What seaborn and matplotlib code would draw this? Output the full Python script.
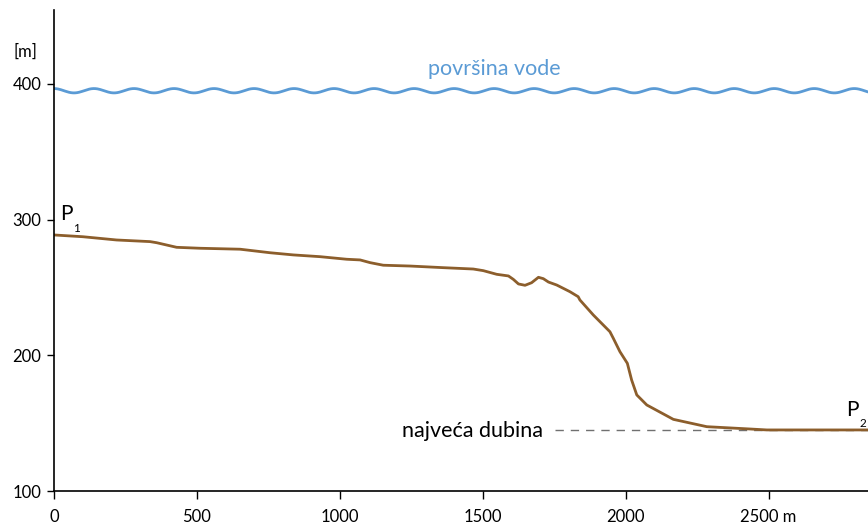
import numpy as np
import pandas as pd
import matplotlib
matplotlib.use("Agg")
import matplotlib.pyplot as plt
import seaborn as sns

# Lake bottom profile between P1 and P2 (distance in m, elevation in m)
distance = [0, 101, 219, 336, 359, 429, 511, 651, 756, 837, 931, 1024, 1071,
            1106, 1152, 1246, 1362, 1467, 1502, 1549, 1590, 1607, 1625, 1648,
            1671, 1695, 1712, 1730, 1759, 1805, 1834, 1840, 1887, 1945, 1957,
            1980, 2006, 2021, 2039, 2074, 2167, 2284, 2435, 2494, 2848]
elevation = [288.7, 287.4, 285.0, 283.8, 283.0, 279.6, 278.9, 278.2, 275.6,
             274.0, 272.7, 270.8, 270.3, 268.3, 266.4, 265.8, 264.6, 263.6,
             262.4, 259.7, 258.5, 256.0, 252.6, 251.6, 253.5, 257.5, 256.5,
             254.0, 251.8, 246.9, 243.2, 240.8, 229.7, 217.4, 212.5, 202.7,
             194.1, 181.8, 170.8, 163.4, 152.8, 147.4, 145.7, 145.0, 145.0]

water_level = 395.0          # lake surface
max_depth_level = 145.0      # deepest point
max_depth_start = 1753       # start of the dashed marker line
x_ticks = [0, 500, 1000, 1500, 2000, 2500]
x_tick_labels = ["0", "500", "1000", "1500", "2000", "2500 m"]
y_ticks = [100, 200, 300, 400]
x_max, y_min, y_max = 2848, 100, 454.5

sns.set_theme(style="white")
plt.rcParams["font.family"] = ["Lato", "DejaVu Sans"]

fig = plt.figure(figsize=(8.68, 5.28), dpi=100)
ax = fig.add_axes([54 / 868, 37 / 528, 814 / 868, 481 / 528])

# wavy water surface (decorative ripple around the water level)
wave_period, wave_amp = 140.0, 1.6
wx = np.linspace(0, x_max, 1200)
wy = water_level + wave_amp * np.cos(2 * np.pi * wx / wave_period)
sns.lineplot(x=wx, y=wy, ax=ax, color="#5b9bd5", linewidth=2.0, sort=False)

# deepest point marker
ax.plot([max_depth_start, x_max], [max_depth_level, max_depth_level],
        color="#707070", linewidth=1.0, dashes=(6, 5))

profile = pd.DataFrame({"distance": distance, "elevation": elevation})
sns.lineplot(data=profile, x="distance", y="elevation", ax=ax,
             color="#8c5e2c", linewidth=2.0, sort=False)

ax.set_xlim(0, x_max)
ax.set_ylim(y_min, y_max)
ax.set_xticks(x_ticks)
ax.set_xticklabels(x_tick_labels)
ax.set_yticks(y_ticks)
ax.set_xlabel("")
ax.set_ylabel("")

for side in ["top", "right"]:
    ax.spines[side].set_visible(False)
for side in ["left", "bottom"]:
    ax.spines[side].set_color("black")
    ax.spines[side].set_linewidth(1.2)

ax.tick_params(axis="both", direction="out", length=6, width=1.0,
               color="black", labelsize=12, labelcolor="black")
ax.tick_params(axis="x", pad=7)
ax.tick_params(axis="y", pad=4, length=5)
ax.tick_params(left=True, bottom=True)

# labels
ax.text(-17 / 0.2858, 423.5, "[m]", ha="right", va="center", fontsize=12,
        color="black", clip_on=False)
ax.text(1540, 411, "površina vode", ha="center", va="center", fontsize=15.5,
        color="#5b9bd5")
ax.text(1710, 144.5, "najveća dubina", ha="right", va="center", fontsize=15.5,
        color="black")

ax.text(20, 296.5, "P", ha="left", va="bottom", fontsize=15, color="black")
ax.text(66, 293.8, "1", ha="left", va="center", fontsize=8.5, color="black")
ax.text(2772, 152.5, "P", ha="left", va="bottom", fontsize=15, color="black")
ax.text(2817, 149.8, "2", ha="left", va="center", fontsize=8.5, color="black")

fig.savefig("out.png", dpi=100)
